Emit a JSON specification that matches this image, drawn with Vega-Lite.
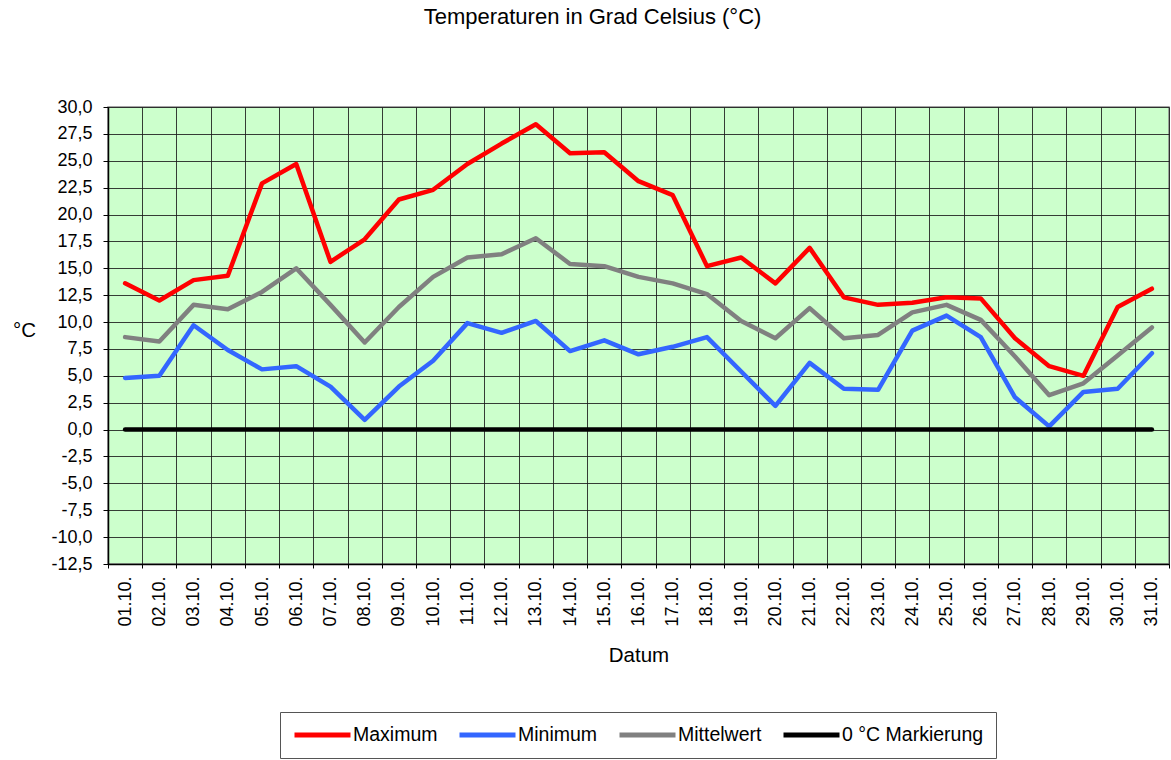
{
  "$schema": "https://vega.github.io/schema/vega-lite/v6.json",
  "width": 1061,
  "height": 457,
  "autosize": {"type": "none"},
  "padding": {"left": 108, "top": 107, "right": 2, "bottom": 196},
  "background": "white",
  "title": {
    "text": "Temperaturen in Grad Celsius (°C)",
    "font": "Liberation Sans",
    "fontSize": 22,
    "fontWeight": "normal",
    "color": "black",
    "anchor": "middle",
    "dx": -46,
    "offset": 69
  },
  "data": {
    "values": [
      {"Datum": "01.10.", "Maximum": 13.6, "Minimum": 4.8, "Mittelwert": 8.6, "0 °C Markierung": 0},
      {"Datum": "02.10.", "Maximum": 12.0, "Minimum": 5.0, "Mittelwert": 8.2, "0 °C Markierung": 0},
      {"Datum": "03.10.", "Maximum": 13.9, "Minimum": 9.7, "Mittelwert": 11.6, "0 °C Markierung": 0},
      {"Datum": "04.10.", "Maximum": 14.3, "Minimum": 7.4, "Mittelwert": 11.2, "0 °C Markierung": 0},
      {"Datum": "05.10.", "Maximum": 22.9, "Minimum": 5.6, "Mittelwert": 12.8, "0 °C Markierung": 0},
      {"Datum": "06.10.", "Maximum": 24.7, "Minimum": 5.9, "Mittelwert": 15.0, "0 °C Markierung": 0},
      {"Datum": "07.10.", "Maximum": 15.6, "Minimum": 4.0, "Mittelwert": 11.6, "0 °C Markierung": 0},
      {"Datum": "08.10.", "Maximum": 17.7, "Minimum": 0.9, "Mittelwert": 8.1, "0 °C Markierung": 0},
      {"Datum": "09.10.", "Maximum": 21.4, "Minimum": 4.0, "Mittelwert": 11.4, "0 °C Markierung": 0},
      {"Datum": "10.10.", "Maximum": 22.3, "Minimum": 6.4, "Mittelwert": 14.2, "0 °C Markierung": 0},
      {"Datum": "11.10.", "Maximum": 24.7, "Minimum": 9.9, "Mittelwert": 16.0, "0 °C Markierung": 0},
      {"Datum": "12.10.", "Maximum": 26.6, "Minimum": 9.0, "Mittelwert": 16.3, "0 °C Markierung": 0},
      {"Datum": "13.10.", "Maximum": 28.4, "Minimum": 10.1, "Mittelwert": 17.8, "0 °C Markierung": 0},
      {"Datum": "14.10.", "Maximum": 25.7, "Minimum": 7.3, "Mittelwert": 15.4, "0 °C Markierung": 0},
      {"Datum": "15.10.", "Maximum": 25.8, "Minimum": 8.3, "Mittelwert": 15.2, "0 °C Markierung": 0},
      {"Datum": "16.10.", "Maximum": 23.1, "Minimum": 7.0, "Mittelwert": 14.2, "0 °C Markierung": 0},
      {"Datum": "17.10.", "Maximum": 21.8, "Minimum": 7.7, "Mittelwert": 13.6, "0 °C Markierung": 0},
      {"Datum": "18.10.", "Maximum": 15.2, "Minimum": 8.6, "Mittelwert": 12.6, "0 °C Markierung": 0},
      {"Datum": "19.10.", "Maximum": 16.0, "Minimum": 5.4, "Mittelwert": 10.1, "0 °C Markierung": 0},
      {"Datum": "20.10.", "Maximum": 13.6, "Minimum": 2.2, "Mittelwert": 8.5, "0 °C Markierung": 0},
      {"Datum": "21.10.", "Maximum": 16.9, "Minimum": 6.2, "Mittelwert": 11.3, "0 °C Markierung": 0},
      {"Datum": "22.10.", "Maximum": 12.3, "Minimum": 3.8, "Mittelwert": 8.5, "0 °C Markierung": 0},
      {"Datum": "23.10.", "Maximum": 11.6, "Minimum": 3.7, "Mittelwert": 8.8, "0 °C Markierung": 0},
      {"Datum": "24.10.", "Maximum": 11.8, "Minimum": 9.2, "Mittelwert": 10.9, "0 °C Markierung": 0},
      {"Datum": "25.10.", "Maximum": 12.3, "Minimum": 10.6, "Mittelwert": 11.6, "0 °C Markierung": 0},
      {"Datum": "26.10.", "Maximum": 12.2, "Minimum": 8.6, "Mittelwert": 10.2, "0 °C Markierung": 0},
      {"Datum": "27.10.", "Maximum": 8.5, "Minimum": 3.0, "Mittelwert": 6.8, "0 °C Markierung": 0},
      {"Datum": "28.10.", "Maximum": 5.9, "Minimum": 0.3, "Mittelwert": 3.2, "0 °C Markierung": 0},
      {"Datum": "29.10.", "Maximum": 5.0, "Minimum": 3.5, "Mittelwert": 4.3, "0 °C Markierung": 0},
      {"Datum": "30.10.", "Maximum": 11.4, "Minimum": 3.8, "Mittelwert": 6.9, "0 °C Markierung": 0},
      {"Datum": "31.10.", "Maximum": 13.1, "Minimum": 7.1, "Mittelwert": 9.5, "0 °C Markierung": 0}
    ]
  },
  "transform": [
    {"fold": ["Maximum", "Minimum", "Mittelwert", "0 °C Markierung"], "as": ["Serie", "Wert"]}
  ],
  "mark": {"type": "line", "strokeWidth": 4.5, "strokeCap": "round", "strokeJoin": "round"},
  "encoding": {
    "x": {
      "field": "Datum",
      "type": "ordinal",
      "sort": null,
      "scale": {"paddingInner": 0, "paddingOuter": 0},
      "axis": {
        "title": "Datum",
        "tickBand": "extent",
        "labelAngle": -90,
        "labelAlign": "right",
        "labelBaseline": "middle",
        "labelPadding": 8,
        "tickSize": 4,
        "grid": true,
        "titleY": 91,
        "titleBaseline": "middle"
      }
    },
    "y": {
      "field": "Wert",
      "type": "quantitative",
      "scale": {"domain": [-12.5, 30], "nice": false, "zero": false},
      "axis": {
        "title": "°C",
        "values": [-12.5, -10, -7.5, -5, -2.5, 0, 2.5, 5, 7.5, 10, 12.5, 15, 17.5, 20, 22.5, 25, 27.5, 30],
        "format": ".1f",
        "tickSize": 5,
        "labelPadding": 11,
        "grid": true,
        "titleAngle": 0,
        "titleX": -84,
        "titleY": 223,
        "titleAlign": "center",
        "titleBaseline": "middle"
      }
    },
    "color": {
      "field": "Serie",
      "type": "nominal",
      "sort": ["Maximum", "Minimum", "Mittelwert", "0 °C Markierung"],
      "scale": {
        "domain": ["Maximum", "Minimum", "Mittelwert", "0 °C Markierung"],
        "range": ["#FF0000", "#3366FF", "#808080", "#000000"]
      },
      "legend": {
        "title": null,
        "orient": "none",
        "direction": "horizontal",
        "legendX": 172,
        "legendY": 605,
        "symbolType": "stroke",
        "symbolSize": 3136,
        "symbolStrokeWidth": 5,
        "clipHeight": 22,
        "labelOffset": 0,
        "columnPadding": 19,
        "padding": 12,
        "strokeColor": "#555555",
        "fillColor": "white",
        "labelFont": "Liberation Sans",
        "labelFontSize": 19.5,
        "labelColor": "black",
        "labelLimit": 400
      }
    }
  },
  "config": {
    "locale": {
      "number": {"decimal": ",", "thousands": ".", "grouping": [3], "currency": ["", " €"], "minus": "-"}
    },
    "view": {"fill": "#CCFFCC", "stroke": "#888888", "strokeWidth": 1.5},
    "axis": {
      "labelFont": "Liberation Sans",
      "labelFontSize": 18,
      "labelColor": "black",
      "titleFont": "Liberation Sans",
      "titleFontSize": 20.5,
      "titleFontWeight": "normal",
      "titleColor": "black",
      "domainColor": "black",
      "domainWidth": 1.5,
      "tickColor": "black",
      "gridColor": "#1a1a1a",
      "gridOpacity": 0.85,
      "gridWidth": 1
    }
  }
}
